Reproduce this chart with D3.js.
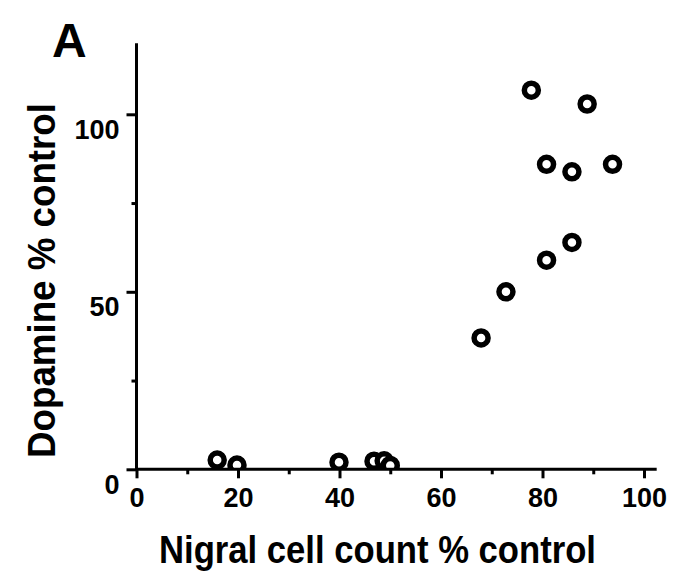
<!DOCTYPE html>
<html>
<head>
<meta charset="utf-8">
<script src="https://cdn.jsdelivr.net/npm/d3@7"></script>
<style>
  html, body { margin: 0; padding: 0; background: #fff; }
  svg { display: block; }
  text { font-family: "Liberation Sans", Arial, sans-serif; font-weight: bold; fill: #000; }
</style>
</head>
<body>
<svg id="chart" width="683" height="578"></svg>
<script>
// ---- data ----
const cellCount = [15.9, 19.8, 39.9, 46.8, 48.8, 50.0, 67.9, 72.8, 80.8, 85.8, 77.8, 88.8, 80.8, 85.8, 93.8];
const dopamine  = [2.6, 1.2, 2.0, 2.3, 2.4, 1.1, 37.0, 50.0, 58.9, 63.9, 106.8, 102.9, 85.9, 83.8, 85.9];
const xTicks = [0, 20, 40, 60, 80, 100];
const xMinorTicks = [10, 30, 50, 70, 90];
const yTicks = [0, 50, 100];
const yMinorTicks = [25, 75];
const xTitle = "Nigral cell count % control";
const yTitle = "Dopamine % control";
const panelLabel = "A";

// ---- layout ----
const svg = d3.select("#chart");
const x = d3.scaleLinear().domain([0, 100]).range([136.5, 644]);
const y = d3.scaleLinear().domain([0, 120]).range([469.3, 43.3]);
const y0 = y(0), x0 = x(0);

// clip so that points near zero are cut at the x axis
svg.append("defs").append("clipPath").attr("id", "plotclip")
  .append("rect").attr("x", 0).attr("y", 0).attr("width", 683).attr("height", y0);

// points
svg.append("g").attr("clip-path", "url(#plotclip)")
  .selectAll("circle").data(cellCount.map((c, i) => [c, dopamine[i]]))
  .join("circle")
  .attr("cx", d => x(d[0]))
  .attr("cy", d => y(d[1]))
  .attr("r", 7)
  .attr("fill", "#fff")
  .attr("stroke", "#000")
  .attr("stroke-width", 5.5);

// x axis
const gx = svg.append("g").attr("transform", `translate(0,${y0})`);
gx.call(d3.axisBottom(x).tickValues(xTicks).tickSize(9).tickFormat(d3.format("d")));
gx.select(".domain").remove();
gx.selectAll(".tick line").attr("stroke", "#000").attr("stroke-width", 3);
gx.selectAll(".tick text").attr("y", 38).attr("dy", null).attr("font-size", 27);
const gxm = svg.append("g").attr("transform", `translate(0,${y0})`);
gxm.call(d3.axisBottom(x).tickValues(xMinorTicks).tickSize(5).tickFormat(""));
gxm.select(".domain").remove();
gxm.selectAll(".tick line").attr("stroke", "#000").attr("stroke-width", 3);
svg.append("line")
  .attr("x1", x0 - 1.5).attr("x2", x(102.5))
  .attr("y1", y0).attr("y2", y0)
  .attr("stroke", "#000").attr("stroke-width", 3);

// y axis
const gy = svg.append("g").attr("transform", `translate(${x0},0)`);
gy.call(d3.axisLeft(y).tickValues(yTicks).tickSize(10).tickFormat(d3.format("d")));
gy.select(".domain").remove();
gy.selectAll(".tick line").attr("stroke", "#000").attr("stroke-width", 3);
gy.selectAll(".tick text").attr("x", -17).attr("dy", null).attr("y", 24).attr("font-size", 27);
const gym = svg.append("g").attr("transform", `translate(${x0},0)`);
gym.call(d3.axisLeft(y).tickValues(yMinorTicks).tickSize(5).tickFormat(""));
gym.select(".domain").remove();
gym.selectAll(".tick line").attr("stroke", "#000").attr("stroke-width", 3);
svg.append("line")
  .attr("x1", x0).attr("x2", x0)
  .attr("y1", y0 + 1.5).attr("y2", y(120))
  .attr("stroke", "#000").attr("stroke-width", 3);

// titles
svg.append("text")
  .attr("x", 377.5).attr("y", 563)
  .attr("text-anchor", "middle")
  .attr("font-size", 39)
  .attr("textLength", 437).attr("lengthAdjust", "spacingAndGlyphs")
  .text(xTitle);

svg.append("text")
  .attr("transform", "translate(55,280.5) rotate(-90)")
  .attr("text-anchor", "middle")
  .attr("font-size", 39)
  .attr("textLength", 355).attr("lengthAdjust", "spacingAndGlyphs")
  .text(yTitle);

svg.append("text")
  .attr("x", 52).attr("y", 56.7)
  .attr("font-size", 48)
  .text(panelLabel);
</script>
</body>
</html>
